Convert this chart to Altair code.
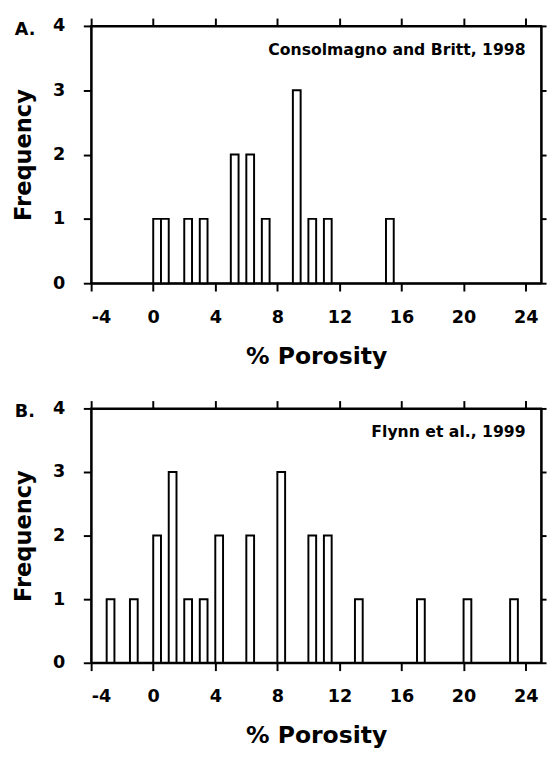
import altair as alt
import pandas as pd

# Panel A: Consolmagno and Britt, 1998
a_start = [0, 0.5, 2, 3, 5, 6, 7, 9, 10, 11, 15]
a_count = [1, 1, 1, 1, 2, 2, 1, 3, 1, 1, 1]
# Panel B: Flynn et al., 1999
b_start = [-3, -1.5, 0, 1, 2, 3, 4, 6, 8, 10, 11, 13, 17, 20, 23]
b_count = [1, 1, 2, 3, 1, 1, 2, 2, 3, 2, 2, 1, 1, 1, 1]
bin_width = 0.5

x_ticks = [-4, 0, 4, 8, 12, 16, 20, 24]
y_ticks = [0, 1, 2, 3, 4]
x_domain = [-4, 25]
y_domain = [0, 4]

FONT = "DejaVu Sans"


def panel(starts, counts, label, note, note_x, note_y, height):
    df = pd.DataFrame({
        "x": starts,
        "x2": [s + bin_width for s in starts],
        "y": counts,
        "y0": [0] * len(counts),
    })
    xs = alt.Scale(domain=x_domain, nice=False, zero=False)
    ys = alt.Scale(domain=y_domain, nice=False)
    bars = alt.Chart(df).mark_bar(fill="white", stroke="black", strokeWidth=2).encode(
        x=alt.X("x:Q", scale=xs,
                axis=alt.Axis(values=x_ticks, orient="bottom", title="% Porosity",
                              tickSize=8, labelPadding=18, titlePadding=19,
                              labelExpr="datum.value + ''",
                              titleFontSize=24)),
        x2="x2:Q",
        y=alt.Y("y:Q", scale=ys,
                axis=alt.Axis(values=y_ticks, orient="left", title="Frequency",
                              tickSize=8, labelPadding=19, titlePadding=17,
                              labelExpr="datum.value + ''",
                              titleFontSize=23)),
        y2="y0:Q",
    )
    frame = alt.Chart(df).mark_point(opacity=0).encode(
        x=alt.X("x:Q", scale=xs,
                axis=alt.Axis(values=x_ticks, orient="top", labels=False, title=None,
                              tickSize=8)),
        y=alt.Y("y:Q", scale=ys,
                axis=alt.Axis(values=y_ticks, orient="right", labels=False, title=None,
                              tickSize=5)),
    )
    ndf = pd.DataFrame({"x": [note_x], "y": [note_y], "t": [note]})
    txt = alt.Chart(ndf).mark_text(align="right", baseline="middle", font=FONT,
                                   fontWeight="bold", fontSize=16, color="black").encode(
        x=alt.X("x:Q", scale=xs, axis=None), y=alt.Y("y:Q", scale=ys, axis=None), text="t:N")
    ldf = pd.DataFrame({"t": [label]})
    lab = alt.Chart(ldf).mark_text(align="left", baseline="middle", font=FONT,
                                   fontWeight="bold", fontSize=18, color="black").encode(
        x=alt.value(-78), y=alt.value(4), text="t:N")
    return alt.layer(bars, frame, txt, lab).resolve_axis(
        x="independent", y="independent").properties(width=460, height=height)


pa = panel(a_start, a_count, "A.", "Consolmagno and Britt, 1998", 24, 3.62, 263)
pb = panel(b_start, b_count, "B.", "Flynn et al., 1999", 24, 3.62, 260)

chart = alt.vconcat(pa, pb, spacing=30).properties(
    padding={"left": 4, "top": 0, "right": 0, "bottom": 0}
).configure_view(
    stroke="black", strokeWidth=2
).configure_axis(
    grid=False, domainColor="black", domainWidth=2, tickColor="black", tickWidth=2,
    labelFont=FONT, labelFontWeight="bold", labelFontSize=18, labelColor="black",
    titleFont=FONT, titleFontWeight="bold", titleColor="black"
)

chart.save("out.html", embed_options={"renderer": "svg", "actions": False})
